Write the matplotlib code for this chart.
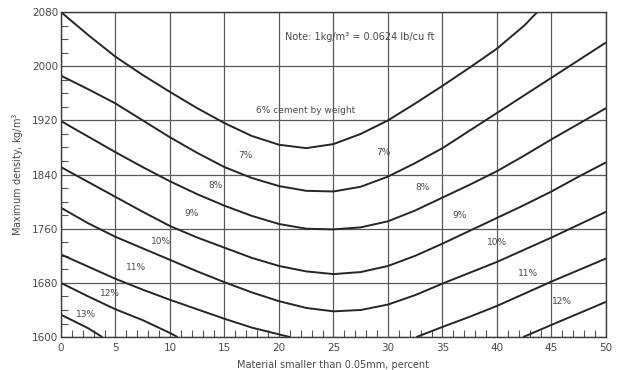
import numpy as np
import matplotlib
matplotlib.use("Agg")
import matplotlib.pyplot as plt
from matplotlib.ticker import MultipleLocator

# cement content of each curve, percent by weight
cement = [6, 7, 8, 9, 10, 11, 12, 13]

# material smaller than 0.05 mm (percent) and maximum density (kg/m3)
# nan splits a curve where it dips below the bottom of the chart
x_6 = [0, 2.5, 5, 7.5, 10, 12.5, 15, 17.5, 20, 22.5, 25, 27.5, 30, 32.5, 35, 37.5, 40, 42.5, 43.7]
y_6 = [2080, 2046, 2014, 1987, 1962, 1938, 1916, 1897, 1884, 1879, 1885, 1900, 1920, 1945, 1971, 1998, 2026, 2060, 2080]

x_7 = [0, 2.5, 5, 7.5, 10, 12.5, 15, 17.5, 20, 22.5, 25, 27.5, 30, 32.5, 35, 37.5, 40, 42.5, 45, 47.5, 50]
y_7 = [1986, 1966, 1945, 1920, 1895, 1872, 1851, 1835, 1823, 1816, 1815, 1822, 1837, 1857, 1879, 1905, 1931, 1957, 1983, 2009, 2035]

x_8 = [0, 2.5, 5, 7.5, 10, 12.5, 15, 17.5, 20, 22.5, 25, 27.5, 30, 32.5, 35, 37.5, 40, 42.5, 45, 47.5, 50]
y_8 = [1919, 1896, 1873, 1851, 1830, 1811, 1794, 1779, 1767, 1760, 1759, 1762, 1771, 1787, 1806, 1825, 1845, 1868, 1892, 1915, 1938]

x_9 = [0, 2.5, 5, 7.5, 10, 12.5, 15, 17.5, 20, 22.5, 25, 27.5, 30, 32.5, 35, 37.5, 40, 42.5, 45, 47.5, 50]
y_9 = [1851, 1829, 1807, 1785, 1764, 1747, 1732, 1717, 1705, 1697, 1693, 1696, 1705, 1720, 1738, 1757, 1776, 1795, 1815, 1837, 1858]

x_10 = [0, 2.5, 5, 7.5, 10, 12.5, 15, 17.5, 20, 22.5, 25, 27.5, 30, 32.5, 35, 37.5, 40, 42.5, 45, 47.5, 50]
y_10 = [1791, 1768, 1748, 1731, 1714, 1697, 1681, 1666, 1653, 1643, 1638, 1640, 1648, 1662, 1679, 1695, 1711, 1729, 1747, 1766, 1785]

x_11 = [0, 2.5, 5, 7.5, 10, 12.5, 15, 17.5, 20, 21, np.nan, 32.6, 35, 37.5, 40, 42.5, 45, 47.5, 50]
y_11 = [1722, 1704, 1686, 1670, 1655, 1641, 1627, 1614, 1604, 1600, np.nan, 1600, 1615, 1630, 1646, 1664, 1682, 1699, 1716]

x_12 = [0, 2.5, 5, 7.5, 10, 10.7, np.nan, 42.4, 45, 47.5, 50]
y_12 = [1680, 1660, 1641, 1625, 1606, 1600, np.nan, 1600, 1618, 1635, 1652]

x_13 = [0, 2.5, 3.8]
y_13 = [1633, 1613, 1600]

curves_x = [x_6, x_7, x_8, x_9, x_10, x_11, x_12, x_13]
curves_y = [y_6, y_7, y_8, y_9, y_10, y_11, y_12, y_13]

# curve labels: left-hand and right-hand positions
left_labels = ["7%", "8%", "9%", "10%", "11%", "12%", "13%"]
left_pos = [(16.9, 1868), (14.2, 1824), (12.0, 1782), (9.2, 1741), (6.9, 1702), (4.5, 1665), (2.3, 1633)]
right_labels = ["7%", "8%", "9%", "10%", "11%", "12%"]
right_pos = [(29.6, 1872), (33.2, 1821), (36.6, 1780), (40.0, 1739), (42.8, 1694), (46.0, 1652)]

ink = "#262626"
txt = "#4a4a4a"

fig = plt.figure(figsize=(6.19, 3.70), dpi=100)
ax = fig.add_axes([0.0985, 0.089, 0.8805, 0.8785])

for cx, cy in zip(curves_x, curves_y):
    ax.plot(cx, cy, color=ink, lw=1.4, solid_joinstyle="round", solid_capstyle="butt")

ax.set_xlim(0, 50)
ax.set_ylim(1600, 2080)
ax.xaxis.set_major_locator(MultipleLocator(5))
ax.xaxis.set_minor_locator(MultipleLocator(1))
ax.yaxis.set_major_locator(MultipleLocator(80))
ax.yaxis.set_minor_locator(MultipleLocator(20))
ax.grid(which="major", color="#5a5a5a", lw=0.9)
ax.tick_params(which="major", length=0, labelsize=7.5, labelcolor=txt)
ax.tick_params(axis="y", which="major", pad=2)
ax.tick_params(axis="x", which="major", pad=4)
ax.tick_params(which="minor", direction="in", length=5, width=0.8, color="#555555",
               top=False, right=False)
for s in ax.spines.values():
    s.set_color("#3a3a3a")
    s.set_linewidth(1.0)

ax.set_xlabel("Material smaller than 0.05mm, percent", fontsize=7, color=txt, labelpad=5)
ax.set_ylabel("Maximum density, kg/m$^3$", fontsize=7, color=txt, labelpad=4)

ax.text(27.4, 2043, "Note: 1kg/m³ = 0.0624 lb/cu ft", fontsize=7, color=txt, ha="center", va="center")
ax.text(22.4, 1935, "6% cement by weight", fontsize=6.5, color=txt, ha="center", va="center")
for lab, (lx, ly) in zip(left_labels, left_pos):
    ax.text(lx, ly, lab, fontsize=6.5, color=txt, ha="center", va="center")
for lab, (lx, ly) in zip(right_labels, right_pos):
    ax.text(lx, ly, lab, fontsize=6.5, color=txt, ha="center", va="center")

fig.savefig("out.png", dpi=100, facecolor="white")
